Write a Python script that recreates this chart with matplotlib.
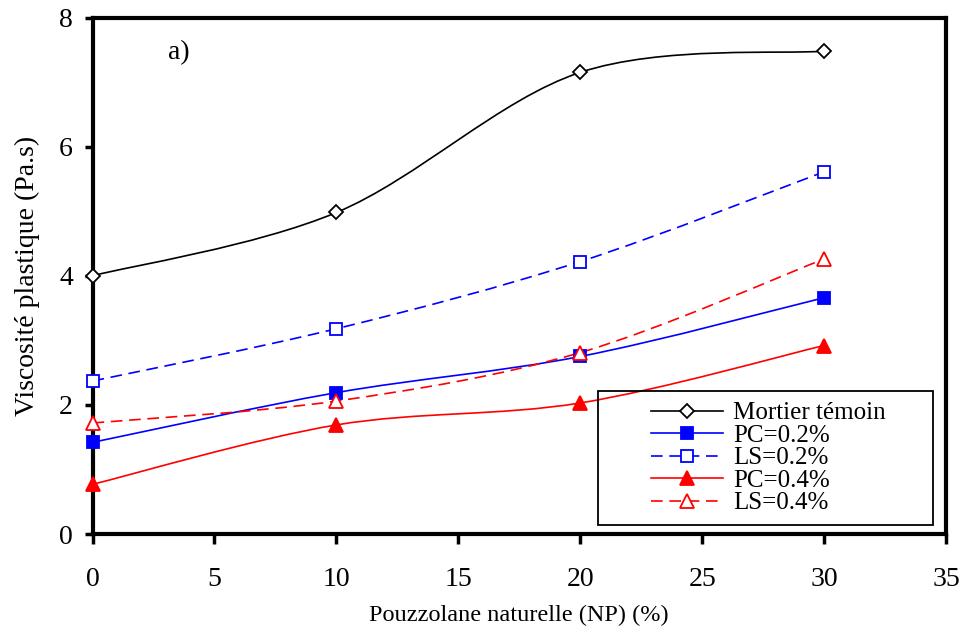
import matplotlib.pyplot as plt
from matplotlib.path import Path
from matplotlib.patches import PathPatch, Rectangle
from matplotlib.lines import Line2D

plt.rcParams['font.family'] = ['Liberation Serif', 'DejaVu Serif']

# data
np_pct = [0, 10, 20, 30]
mortier = [4.00, 4.98, 7.15, 7.48]
pc_02 = [1.42, 2.19, 2.75, 3.66]
ls_02 = [2.37, 3.18, 4.22, 5.61]
pc_04 = [0.77, 1.69, 2.03, 2.92]
ls_04 = [1.72, 2.06, 2.81, 4.26]

labels = ['Mortier témoin', 'PC=0.2%', 'LS=0.2%', 'PC=0.4%', 'LS=0.4%']
series = [mortier, pc_02, ls_02, pc_04, ls_04]
colors = ['black', 'blue', 'blue', 'red', 'red']
markers = ['D', 's', 's', '^', '^']
msizes = [7, 9, 9, 10, 10]
filled = [False, True, False, True, False]
dashed = [False, False, True, False, True]


def smooth_path(x, y):
    # excel-like smoothed line (catmull-rom as cubic bezier)
    pts = list(zip(x, y))
    verts = [pts[0]]
    codes = [Path.MOVETO]
    n = len(pts)
    for i in range(n - 1):
        p0 = pts[max(i - 1, 0)]
        p1 = pts[i]
        p2 = pts[i + 1]
        p3 = pts[min(i + 2, n - 1)]
        c1 = (p1[0] + (p2[0] - p0[0]) / 6, p1[1] + (p2[1] - p0[1]) / 6)
        c2 = (p2[0] - (p3[0] - p1[0]) / 6, p2[1] - (p3[1] - p1[1]) / 6)
        verts += [c1, c2, p2]
        codes += [Path.CURVE4] * 3
    return Path(verts, codes)


fig = plt.figure(figsize=(9.65, 6.32), dpi=100)
ax = fig.add_axes([0.0959, 0.155, 0.8844, 0.8173])

handles = []
for vals, lab, c, m, ms, f, d in zip(series, labels, colors, markers,
                                      msizes, filled, dashed):
    ls = (0, (7, 4)) if d else '-'
    patch = PathPatch(smooth_path(np_pct, vals), fill=False, edgecolor=c,
                      lw=1.2, linestyle=ls, zorder=2)
    ax.add_patch(patch)
    fc = c if f else 'white'
    ax.plot(np_pct, vals, linestyle='none', marker=m, ms=ms,
            mfc=fc, mec=c, mew=1.3, zorder=3, clip_on=False)
    handles.append(Line2D([], [], color=c, lw=1.2, linestyle=ls, marker=m,
                          ms=ms, mfc=fc, mec=c, mew=1.3))

ax.set_xlim(0, 35)
ax.set_ylim(0, 8)
ax.set_xticks(range(0, 36, 5))
ax.set_yticks([0, 2, 4, 6, 8])

for s in ax.spines.values():
    s.set_linewidth(3)
ax.tick_params(axis='x', direction='out', length=7, width=2.5,
               labelsize=20, pad=17)
ax.tick_params(axis='y', direction='out', length=6, width=2.5,
               labelsize=20, pad=8)

ax.set_xlabel('Pouzzolane naturelle (NP) (%)', fontsize=17.5, labelpad=9)
ax.set_ylabel('Viscosité plastique (Pa.s)', fontsize=20, labelpad=14)

ax.text(3.1, 7.45, 'a)', fontsize=20, va='center', ha='left')

# legend box drawn separately, excel style wide frame
ax.add_patch(Rectangle((0.592, 0.0174), 0.393, 0.2595, transform=ax.transAxes,
                       fill=False, edgecolor='black', lw=1.3, zorder=4))
ax.legend(handles, labels, loc='center left', bbox_to_anchor=(0.654, 0.147),
          frameon=False, fontsize=18, handlelength=2.9, handletextpad=0.4,
          labelspacing=0.0, borderpad=0, borderaxespad=0)

plt.savefig('out.png', dpi=100)
